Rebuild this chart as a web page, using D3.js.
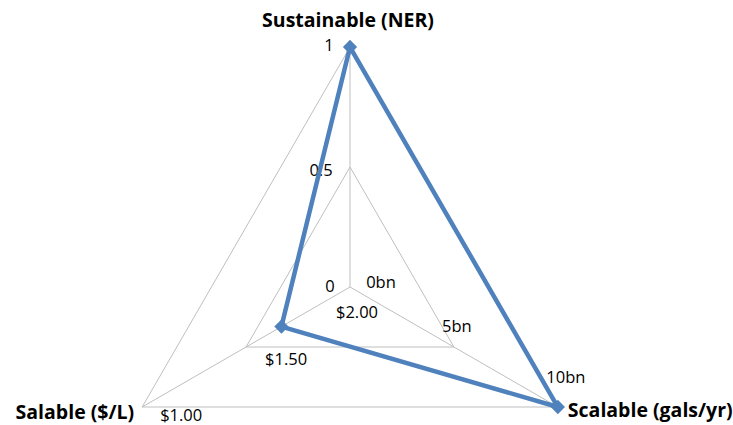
<!DOCTYPE html>
<html>
<head>
<meta charset="utf-8">
<script src="https://cdn.jsdelivr.net/npm/d3@7"></script>
<style>
  html, body { margin: 0; padding: 0; background: #fff; }
  svg { display: block; }
  text { font-family: "Open Sans", "DejaVu Sans", sans-serif; fill: #000; }
</style>
</head>
<body>
<svg id="chart" width="733" height="425"></svg>
<script>
// Axes of the radar, clockwise from the top
const axes = ["Sustainable (NER)", "Scalable (gals/yr)", "Salable ($/L)"];
// Domain of each axis: value at the centre, value at the rim
const axisDomains = [[0, 1], [0, 10], [2.0, 1.0]];
// Tick values and their labels on each axis
const tickValues = [[0, 0.5, 1], [0, 5, 10], [2.0, 1.5, 1.0]];
const tickLabels = [["0", "0.5", "1"], ["0bn", "5bn", "10bn"], ["$2.00", "$1.50", "$1.00"]];
// The single series: NER, billions of gallons per year, dollars per litre
const seriesValues = [1, 10, 1.67];

const svg = d3.select("#chart");
const cx = 350, cy = 287, R = 240;
const gridColor = "#bfbfbf";
const lineColor = "#4f81bd";

const angle = d3.scalePoint().domain(axes).range([0, 2 * Math.PI * 2 / 3]);
const radius = axes.map((a, i) => d3.scaleLinear().domain(axisDomains[i]).range([0, R]));

const g = svg.append("g").attr("transform", `translate(${cx},${cy})`);
const pt = (i, v) => {
  const a = angle(axes[i]), r = radius[i](v);
  return [r * Math.sin(a), -r * Math.cos(a)];
};

// Grid rings (triangles) at each tick level
const levels = [0.5, 1];
levels.forEach(f => {
  const pts = axes.map((a, i) => {
    const an = angle(a), r = R * f;
    return [r * Math.sin(an), -r * Math.cos(an)];
  });
  g.append("path")
    .attr("d", d3.line().curve(d3.curveLinearClosed)(pts))
    .attr("fill", "none").attr("stroke", gridColor).attr("stroke-width", 1);
});

// Spokes
axes.forEach((a, i) => {
  const an = angle(a);
  g.append("line")
    .attr("x1", 0).attr("y1", 0)
    .attr("x2", R * Math.sin(an)).attr("y2", -R * Math.cos(an))
    .attr("stroke", gridColor).attr("stroke-width", 1);
});

// Tick labels, offset from the tick point per axis
const tickOffsets = [
  [[-20, 5], [-29, 9], [-21, 4]],
  [[31, 1], [3, -15], [8, -24]],
  [[7, 31], [40, 18], [39, 14]]
];
axes.forEach((a, i) => {
  tickValues[i].forEach((v, j) => {
    const [x, y] = pt(i, v);
    const off = tickOffsets[i][j];
    g.append("text")
      .attr("x", x + off[0]).attr("y", y + off[1])
      .attr("text-anchor", "middle")
      .attr("font-size", 16.5)
      .text(tickLabels[i][j]);
  });
});

// Series polygon
const seriesPts = seriesValues.map((v, i) => pt(i, v));
g.append("path")
  .attr("d", d3.line().curve(d3.curveLinearClosed)(seriesPts))
  .attr("fill", "none").attr("stroke", lineColor)
  .attr("stroke-width", 4.5).attr("stroke-linejoin", "round");

// Diamond markers
g.selectAll(".marker").data(seriesPts).join("path")
  .attr("class", "marker")
  .attr("d", d3.symbol().type(d3.symbolDiamond2).size(130))
  .attr("transform", d => `translate(${d[0]},${d[1]})`)
  .attr("fill", lineColor);

// Axis titles
const titleSpec = [
  { x: 0, y: -R - 20, anchor: "middle" },
  { x: 0, y: 0, anchor: "start", dx: 10, dy: 10 },
  { x: 0, y: 0, anchor: "end", dx: -8, dy: 12 }
];
axes.forEach((a, i) => {
  const an = angle(a);
  const ex = R * Math.sin(an), ey = -R * Math.cos(an);
  const s = titleSpec[i];
  g.append("text")
    .attr("x", i === 0 ? -2 : ex + s.dx)
    .attr("y", i === 0 ? s.y : ey + s.dy)
    .attr("text-anchor", s.anchor)
    .attr("font-size", 19.5)
    .attr("font-weight", "bold")
    .text(a);
});
</script>
</body>
</html>
